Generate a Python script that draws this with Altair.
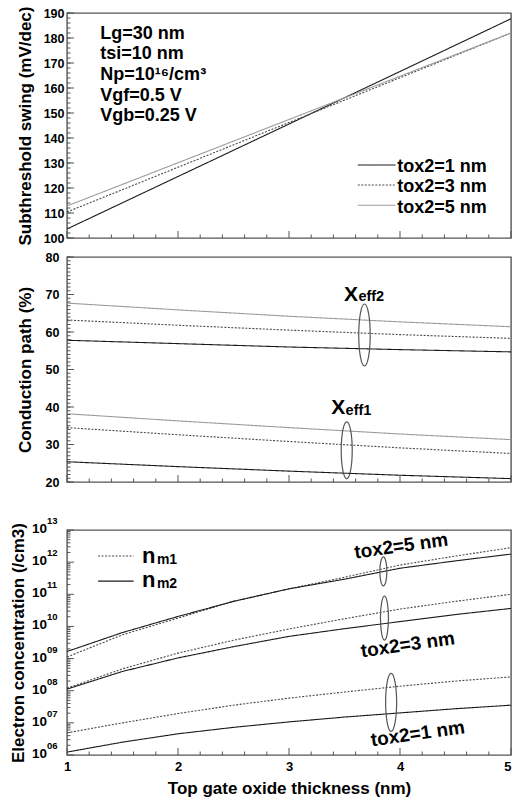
import altair as alt
import pandas as pd

# ---------------- data ----------------
series_names = ["tox2=1 nm", "tox2=3 nm", "tox2=5 nm"]
kind_names = ["nm1", "nm2"]

# Panel 1: subthreshold swing (mV/dec)
x_top = [1, 2, 3, 4, 5]
ss_tox1 = [103.6, 124.6, 145.6, 166.6, 187.7]
ss_tox3 = [110.4, 128.3, 146.2, 164.1, 182.0]
ss_tox5 = [112.8, 130.1, 147.4, 164.7, 182.0]

# Panel 2: conduction path (%)
x_mid = [1, 2, 3, 4, 5]
xeff2_tox1 = [57.8, 56.9, 56.0, 55.3, 54.7]
xeff2_tox3 = [63.2, 61.8, 60.5, 59.3, 58.3]
xeff2_tox5 = [67.7, 65.9, 64.2, 62.7, 61.4]
xeff1_tox1 = [25.4, 24.1, 22.9, 21.8, 20.9]
xeff1_tox3 = [34.5, 32.6, 30.8, 29.1, 27.6]
xeff1_tox5 = [38.2, 36.3, 34.5, 32.8, 31.3]

# Panel 3: electron concentration, log10 of /cm3
x_bot = [1, 1.5, 2, 2.5, 3, 3.5, 4, 4.5, 5]
nm1_tox5 = [9.05, 9.74, 10.26, 10.78, 11.17, 11.53, 11.91, 12.19, 12.45]
nm2_tox5 = [9.22, 9.81, 10.31, 10.78, 11.17, 11.47, 11.81, 12.04, 12.25]
nm1_tox3 = [8.08, 8.68, 9.17, 9.57, 9.92, 10.24, 10.54, 10.78, 11.00]
nm2_tox3 = [8.05, 8.60, 9.02, 9.37, 9.69, 9.93, 10.15, 10.37, 10.56]
nm1_tox1 = [6.69, 7.00, 7.29, 7.55, 7.77, 7.96, 8.14, 8.30, 8.43]
nm2_tox1 = [6.09, 6.40, 6.66, 6.86, 7.03, 7.18, 7.31, 7.44, 7.55]

info_lines = ["Lg=30 nm", "tsi=10 nm", "Np=10\u00b9\u2076/cm\u00b3", "Vgf=0.5 V", "Vgb=0.25 V"]
log_exponents = [6, 7, 8, 9, 10, 11, 12, 13]
x_tick_values = [1, 2, 3, 4, 5]

# ---------------- style ----------------
FONT = "Liberation Sans"
W, H = 444, 225
FRAME = "#555555"
style_domain = series_names + kind_names
col_scale = alt.Scale(domain=style_domain,
                      range=["#1a1a1a", "#4a4a4a", "#9c9c9c", "#4a4a4a", "#1a1a1a"])
dash_scale = alt.Scale(domain=style_domain,
                       range=[[1, 0], [2, 1.5], [1, 0], [2, 1.5], [1, 0]])

xs = alt.Scale(domain=[1, 5], nice=False, zero=False)


class Panel:
    def __init__(self, ys, xaxis, yaxis):
        self.ys, self.xaxis, self.yaxis = ys, xaxis, yaxis

    def X(self, field):
        return alt.X(field, type="quantitative", scale=xs, axis=self.xaxis)

    def Y(self, field):
        return alt.Y(field, type="quantitative", scale=self.ys, axis=self.yaxis)

    def ticks(self, y_major, y_minor):
        xmaj = pd.DataFrame({"x": x_tick_values})
        xmin = pd.DataFrame({"x": [round(1 + 0.2 * i, 1) for i in range(21) if i % 5]})
        return [
            alt.Chart(xmaj).mark_rule(color=FRAME, strokeWidth=1).encode(
                x=self.X("x"), y=alt.value(H), y2=alt.value(H - 7)),
            alt.Chart(xmin).mark_rule(color=FRAME, strokeWidth=1).encode(
                x=self.X("x"), y=alt.value(H), y2=alt.value(H - 3.5)),
            alt.Chart(pd.DataFrame({"y": y_major})).mark_rule(color=FRAME, strokeWidth=1).encode(
                y=self.Y("y"), x=alt.value(0), x2=alt.value(7)),
            alt.Chart(pd.DataFrame({"y": y_minor})).mark_rule(color=FRAME, strokeWidth=1).encode(
                y=self.Y("y"), x=alt.value(0), x2=alt.value(3.5)),
        ]

    def lines(self, df, field, detail=None):
        enc = dict(
            x=self.X("x"), y=self.Y("y"),
            color=alt.Color(field, type="nominal", scale=col_scale, legend=None),
            strokeDash=alt.StrokeDash(field, type="nominal", scale=dash_scale, legend=None),
        )
        if detail:
            enc["detail"] = detail
        return alt.Chart(df).mark_line(strokeWidth=1.1).encode(**enc)

    def legend_lines(self, df, field):
        return alt.Chart(df).mark_rule(strokeWidth=1.1).encode(
            x=self.X("x"), x2="x2", y=self.Y("y"),
            color=alt.Color(field, type="nominal", scale=col_scale, legend=None),
            strokeDash=alt.StrokeDash(field, type="nominal", scale=dash_scale, legend=None),
        )

    def ellipse(self, x, y, h, w):
        r = round(w / h, 3)
        path = f"M0,-1A{r},1 0 1,1 0,1A{r},1 0 1,1 0,-1Z"
        return alt.Chart(pd.DataFrame({"x": [x], "y": [y]})).mark_point(
            shape=path, size=h * h, filled=False, stroke=FRAME, strokeWidth=1.2, opacity=1
        ).encode(x=self.X("x"), y=self.Y("y"))

    def text(self, df, size, align="left", baseline="alphabetic", angle=0):
        kw = dict(font=FONT, fontWeight="bold", fontSize=size, color="black",
                  align=align, baseline=baseline)
        if angle:
            kw["angle"] = angle
        return alt.Chart(df).mark_text(**kw).encode(x=self.X("x"), y=self.Y("y"), text="t:N")


def yaxis(title, values, pad, tx):
    return alt.Axis(values=values, title=title, labelFontSize=12.5, labelPadding=pad,
                    titleFontSize=17, titleX=tx, titleY=H / 2, format="d")


# ---------------- panel 1 ----------------
p1 = Panel(alt.Scale(domain=[100, 190], nice=False, zero=False), None,
           yaxis("Subthreshold swing (mV/dec)", list(range(100, 191, 10)), 3, -33))
top_df = pd.DataFrame({
    "x": x_top * 3,
    "y": ss_tox1 + ss_tox3 + ss_tox5,
    "series": [s for s in series_names for _ in x_top],
})
info_df = pd.DataFrame({"x": [1.3] * 5, "y": [179.7, 171.5, 163.1, 154.8, 146.8], "t": info_lines})
leg_top = pd.DataFrame({"x": [3.62] * 3, "x2": [3.96] * 3, "y": [129.2, 121.2, 113.1],
                        "series": series_names})
leg_top_text = pd.DataFrame({"x": [3.975] * 3, "y": [126.4, 118.4, 110.1], "t": series_names})
top = alt.layer(
    p1.lines(top_df, "series"),
    *p1.ticks(list(range(100, 191, 10)), list(range(100, 191, 2))),
    p1.legend_lines(leg_top, "series"),
    p1.text(info_df, 18),
    p1.text(leg_top_text, 18),
).properties(width=W, height=H)

# ---------------- panel 2 ----------------
p2 = Panel(alt.Scale(domain=[20, 80], nice=False, zero=False), None,
           yaxis("Conduction path (%)", list(range(20, 81, 10)), 8, -33))
mid_vals = [xeff2_tox1, xeff2_tox3, xeff2_tox5, xeff1_tox1, xeff1_tox3, xeff1_tox5]
mid_df = pd.DataFrame({
    "x": x_mid * 6,
    "y": sum(mid_vals, []),
    "series": [s for _ in range(2) for s in series_names for _ in x_mid],
    "grp": [g for g in ["Xeff2", "Xeff1"] for _ in range(3 * len(x_mid))],
})
xbig = pd.DataFrame({"x": [3.495, 3.38], "y": [68.3, 38.1], "t": ["X", "X"]})
xsub = pd.DataFrame({"x": [3.625, 3.51], "y": [68.2, 38.0], "t": ["eff2", "eff1"]})
mid = alt.layer(
    p2.lines(mid_df, "series", detail="grp:N"),
    *p2.ticks(list(range(20, 81, 10)), list(range(20, 81, 1))),
    p2.ellipse(3.68, 59.2, 62, 11.5),
    p2.ellipse(3.52, 28.45, 57, 11),
    p2.text(xbig, 21),
    p2.text(xsub, 14.5),
).properties(width=W, height=H)

# ---------------- panel 3 ----------------
bot_axis_x = alt.Axis(values=x_tick_values, title="Top gate oxide thickness (nm)", format="d",
                      labelFontSize=13, labelPadding=5, titleFontSize=17, titlePadding=7,
                      labelAlign={"condition": {"test": "datum.value == 5", "value": "right"},
                                  "value": "center"})
bot_axis_y = alt.Axis(values=[10.0 ** e for e in log_exponents], labels=False,
                      title="Electron concentration (/cm3)", titleFontSize=17,
                      titleX=-40, titleY=H / 2)
p3 = Panel(alt.Scale(type="log", domain=[1e6, 1e13], nice=False), bot_axis_x, bot_axis_y)

bot_sets = [("tox2=5 nm", "nm1", nm1_tox5), ("tox2=5 nm", "nm2", nm2_tox5),
            ("tox2=3 nm", "nm1", nm1_tox3), ("tox2=3 nm", "nm2", nm2_tox3),
            ("tox2=1 nm", "nm1", nm1_tox1), ("tox2=1 nm", "nm2", nm2_tox1)]
rows = []
for tox, kind, vals in bot_sets:
    for xv, lv in zip(x_bot, vals):
        rows.append({"x": xv, "y": 10 ** lv, "tox": tox, "kind": kind})
bot_df = pd.DataFrame(rows)

lab_df = pd.DataFrame({"y": [10.0 ** e for e in log_exponents],
                       "b": ["10"] * len(log_exponents),
                       "s": ["%02d" % e for e in log_exponents]})
lab10 = alt.Chart(lab_df).mark_text(font=FONT, fontWeight="bold", fontSize=13.5, color="black",
                                     align="right", baseline="middle", dy=-1).encode(
    y=p3.Y("y"), x=alt.value(-20), text="b:N")
labsup = alt.Chart(lab_df).mark_text(font=FONT, fontWeight="bold", fontSize=9.5, color="black",
                                      align="left", baseline="middle", dy=-9).encode(
    y=p3.Y("y"), x=alt.value(-20), text="s:N")
spacer = alt.Chart(pd.DataFrame({"t": ["."]})).mark_text(
    font=FONT, fontSize=10, baseline="top", opacity=0).encode(
    x=alt.value(0), y=alt.value(-35), text="t:N")

minor_log = [k * 10.0 ** e for e in range(6, 13) for k in range(2, 10)]

leg_bot = pd.DataFrame({"x": [1.28, 1.28], "x2": [1.60, 1.60], "y": [10 ** 12.19, 10 ** 11.41],
                        "kind": kind_names})
leg_n = pd.DataFrame({"x": [1.675, 1.675], "y": [10 ** 11.97, 10 ** 11.23], "t": ["n", "n"]})
leg_m = pd.DataFrame({"x": [1.81, 1.81], "y": [10 ** 11.94, 10 ** 11.20], "t": ["m1", "m2"]})
tox_lab = pd.DataFrame({"x": [4.01, 4.07, 4.16], "y": [10 ** 12.5, 10 ** 9.43, 10 ** 6.66],
                        "t": ["tox2=5 nm", "tox2=3 nm", "tox2=1 nm"]})

bot = alt.layer(
    p3.lines(bot_df, "kind", detail="tox:N"),
    *p3.ticks([10.0 ** e for e in log_exponents], minor_log),
    p3.legend_lines(leg_bot, "kind"),
    p3.ellipse(3.85, 10 ** 11.71, 29, 7),
    p3.ellipse(3.86, 10 ** 10.26, 44, 8),
    p3.ellipse(3.92, 10 ** 7.64, 58, 11),
    p3.text(leg_n, 22),
    p3.text(leg_m, 14),
    p3.text(tox_lab, 19, align="center", baseline="middle", angle=352),
    lab10, labsup, spacer,
).properties(width=W, height=H)

chart = alt.vconcat(top, mid, bot, spacing=4).properties(
    padding={"left": 8, "top": 5, "right": 0, "bottom": 2}
).configure_view(stroke=FRAME, strokeWidth=1.4).configure_axis(
    labelFont=FONT, labelFontWeight="bold", labelColor="black",
    titleFont=FONT, titleFontWeight="bold", titleColor="black",
    grid=False, ticks=False, domain=False,
)

chart.save("out.html", embed_options={"renderer": "svg", "actions": False})
